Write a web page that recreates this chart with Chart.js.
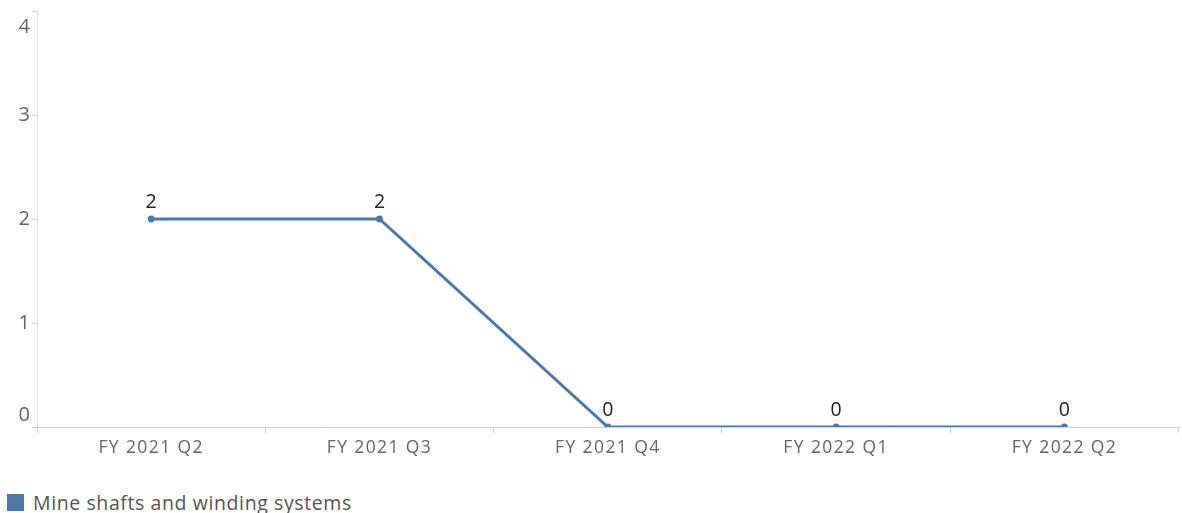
<!DOCTYPE html>
<html>
<head>
<meta charset="utf-8">
<script src="https://cdn.jsdelivr.net/npm/chart.js@4.4.1/dist/chart.umd.min.js"></script>
<style>
  html, body { margin: 0; padding: 0; background: #fff; }
  #wrap { position: relative; width: 1182px; height: 462px; }
  #legend { position: absolute; left: 7px; top: 494px; display: flex; align-items: center;
    font-family: "Open Sans", sans-serif; font-size: 19.5px; letter-spacing: 0.6px; color: #555; line-height: 17px; }
  #legend .sw { width: 17px; height: 17px; background: #4e79a7; margin-right: 9px; }
</style>
</head>
<body>
<div id="wrap"><canvas id="c"></canvas></div>
<div id="legend"><div class="sw"></div><span id="legendText"></span></div>
<script>
const categories = ["FY 2021 Q2", "FY 2021 Q3", "FY 2021 Q4", "FY 2022 Q1", "FY 2022 Q2"];
const seriesName = "Mine shafts and winding systems";
const seriesValues = [2, 2, 0, 0, 0];
const yTicks = [0, 1, 2, 3, 4];

document.getElementById('legendText').textContent = seriesName;

const FONT = '"Open Sans", sans-serif';
const lineColor = '#4e79a7';

const textStyle = {
  id: 'textStyle',
  beforeDraw(chart) { chart.ctx.letterSpacing = '1.4px'; }
};

const yLabels = {
  id: 'yLabels',
  afterDraw(chart) {
    const ctx = chart.ctx;
    const s = chart.scales.y;
    const area = chart.chartArea;
    ctx.save();
    ctx.letterSpacing = '0px';
    ctx.font = '20px ' + FONT;
    ctx.fillStyle = '#666';
    ctx.textAlign = 'right';
    ctx.textBaseline = 'middle';
    yTicks.forEach(v => {
      let y = s.getPixelForValue(v);
      y = Math.max(area.top + 16, Math.min(area.bottom - 12, y));
      ctx.fillText(String(v), s.right - 7, y);
    });
    ctx.restore();
  }
};

const dataLabels = {
  id: 'dataLabels',
  afterDatasetsDraw(chart) {
    const ctx = chart.ctx;
    const meta = chart.getDatasetMeta(0);
    ctx.save();
    ctx.letterSpacing = '0px';
    ctx.font = '19.5px ' + FONT;
    ctx.fillStyle = '#222';
    ctx.textAlign = 'center';
    ctx.textBaseline = 'alphabetic';
    meta.data.forEach((pt, i) => {
      ctx.fillText(String(chart.data.datasets[0].data[i]), pt.x, pt.y - 11);
    });
    ctx.restore();
  }
};

new Chart(document.getElementById('c'), {
  type: 'line',
  data: {
    labels: categories,
    datasets: [{
      label: seriesName,
      data: seriesValues,
      borderColor: lineColor,
      backgroundColor: lineColor,
      borderWidth: 3,
      pointRadius: 3.4,
      pointHoverRadius: 3.4,
      pointBackgroundColor: lineColor,
      pointBorderWidth: 0,
      tension: 0,
      clip: { left: 5, top: 5, right: 5, bottom: 0 }
    }]
  },
  options: {
    responsive: true,
    maintainAspectRatio: false,
    animation: false,
    layout: { padding: { top: 11, right: 0, left: 0, bottom: 0 } },
    plugins: { legend: { display: false }, tooltip: { enabled: false } },
    scales: {
      x: {
        type: 'category',
        offset: true,
        grid: { display: true, offset: true, drawOnChartArea: false, drawTicks: true, tickLength: 6, color: '#cfcfcf' },
        border: { display: true, color: '#d4d4d4', dash: [2, 2] },
        ticks: { color: '#666', font: { family: FONT, size: 17.5 }, padding: 5, maxRotation: 0 },
        afterFit(s) { s.height = 35; }
      },
      y: {
        min: 0, max: 4,
        afterBuildTicks(s) { s.ticks = yTicks.map(v => ({ value: v })); },
        grid: { display: true, drawOnChartArea: false, drawTicks: true, tickLength: 5, color: '#cfcfcf' },
        border: { display: true, color: '#e0e0e0' },
        ticks: { display: false },
        afterFit(s) { s.width = 37; }
      }
    }
  },
  plugins: [textStyle, dataLabels, yLabels]
});
</script>
</body>
</html>
